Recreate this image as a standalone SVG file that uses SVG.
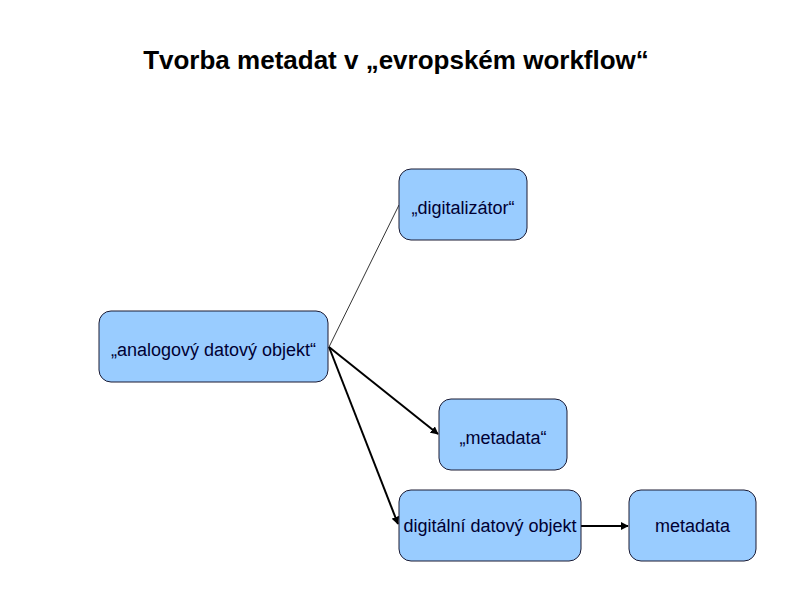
<svg xmlns="http://www.w3.org/2000/svg" width="794" height="595" viewBox="0 0 794 595">
<style>
.node rect{fill:#99CCFF;stroke:#1a1a33;stroke-width:1}
.node text{font-family:"Liberation Sans",Arial,sans-serif;font-size:18px;fill:#000033;text-anchor:middle}
.title{font-family:"Liberation Sans",Arial,sans-serif;font-size:26px;font-weight:bold;fill:#000;text-anchor:middle}
.thin{stroke:#000;stroke-width:0.8;fill:none}
.arr{stroke:#000;stroke-width:2;fill:none;marker-end:url(#ah)}
</style>
<defs>
<marker id="ah" viewBox="0 0 10 10" refX="9" refY="5" markerWidth="4" markerHeight="4" orient="auto" markerUnits="strokeWidth">
<path d="M0,0 L10,5 L0,10 z" fill="#000"/>
</marker>
</defs>
<text class="title" x="396" y="69">Tvorba metadat v „evropském workflow“</text>
<g id="connectors">
<line class="thin" x1="329" y1="347" x2="399" y2="205"/>
<line class="arr" x1="329" y1="347" x2="438" y2="434"/>
<line class="arr" x1="329" y1="347" x2="398" y2="524"/>
<line class="arr" x1="581" y1="526" x2="628" y2="526"/>
</g>
<g id="digitalizator" class="node">
<rect x="399" y="169" width="128" height="71" rx="12"/>
<text x="463" y="214">„digitalizátor“</text>
</g>
<g id="analogovy" class="node">
<rect x="99" y="311" width="229" height="71" rx="12"/>
<text x="213.5" y="356">„analogový datový objekt“</text>
</g>
<g id="metadata-quoted" class="node">
<rect x="439" y="399" width="128" height="71" rx="12"/>
<text x="503" y="444">„metadata“</text>
</g>
<g id="digitalni" class="node">
<rect x="399" y="490" width="182" height="71" rx="12"/>
<text x="490" y="532">digitální datový objekt</text>
</g>
<g id="metadata" class="node">
<rect x="629" y="490" width="127" height="71" rx="12"/>
<text x="692.5" y="532">metadata</text>
</g>
</svg>
